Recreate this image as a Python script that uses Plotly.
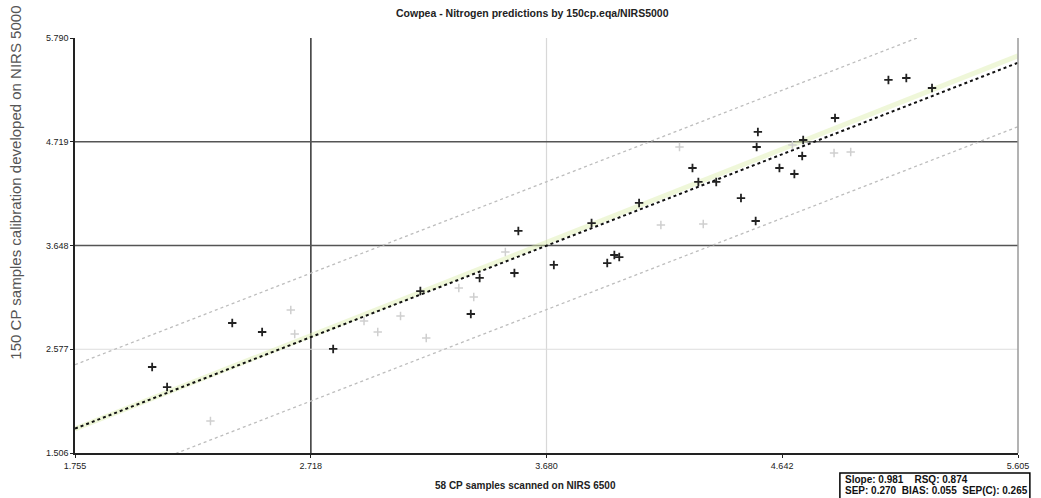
import plotly.graph_objects as go

# ---- data ----
x_range = [1.755, 5.605]
y_range = [1.506, 5.790]
x_ticks = [1.755, 2.718, 3.680, 4.642, 5.605]
x_tick_labels = ["1.755", "2.718", "3.680", "4.642", "5.605"]
y_ticks = [1.506, 2.577, 3.648, 4.719, 5.790]
y_tick_labels = ["1.506", "2.577", "3.648", "4.719", "5.790"]

dark_x = [2.070, 2.131, 2.397, 2.519, 2.809, 3.165, 3.371, 3.407, 3.549, 3.565,
          3.710, 3.864, 3.928, 3.957, 3.977, 4.058, 4.276, 4.300, 4.373, 4.474,
          4.534, 4.543, 4.538, 4.631, 4.692, 4.728, 4.724, 4.858, 5.076, 5.149, 5.254]
dark_y = [2.394, 2.187, 2.848, 2.755, 2.580, 3.178, 2.941, 3.313, 3.364, 3.798,
          3.447, 3.880, 3.467, 3.550, 3.529, 4.087, 4.448, 4.304, 4.304, 4.138,
          3.901, 4.820, 4.665, 4.448, 4.386, 4.737, 4.572, 4.964, 5.357, 5.377, 5.274]

faint_x = [2.308, 2.636, 2.652, 2.935, 2.991, 3.084, 3.189, 3.322, 3.383, 3.512,
           4.147, 4.320, 4.223, 4.684, 4.854, 4.922]
faint_y = [1.836, 2.982, 2.734, 2.869, 2.755, 2.920, 2.693, 3.209, 3.116, 3.581,
           3.860, 3.870, 4.665, 4.686, 4.603, 4.613]

slope = 0.981
intercept = 0.036
limit = 0.66

dark_grid_x = [2.718]
light_grid_x = [3.680]
dark_grid_y = [3.648, 4.719]
light_grid_y = [2.577]

title = "Cowpea - Nitrogen predictions by 150cp.eqa/NIRS5000"
x_title = "58 CP samples scanned on NIRS 6500"
y_title = "150 CP samples calibration developed on NIRS 5000"
stats_line1 = "Slope: 0.981    RSQ: 0.874"
stats_line2 = "SEP: 0.270  BIAS: 0.055  SEP(C): 0.265"

# ---- figure ----
fig = go.Figure()
lx = [x_range[0], x_range[1]]
reg_y = [slope * v + intercept for v in lx]

fig.add_trace(go.Scatter(x=lx, y=lx, mode="lines",
                         line=dict(color="rgba(220,238,170,0.45)", width=5),
                         hoverinfo="skip"))
fig.add_trace(go.Scatter(x=lx, y=[v + limit for v in reg_y], mode="lines",
                         line=dict(color="#bdbdbd", width=1.3, dash="dot"),
                         hoverinfo="skip"))
fig.add_trace(go.Scatter(x=lx, y=[v - limit for v in reg_y], mode="lines",
                         line=dict(color="#bdbdbd", width=1.3, dash="dot"),
                         hoverinfo="skip"))
fig.add_trace(go.Scatter(x=lx, y=reg_y, mode="lines",
                         line=dict(color="#111111", width=2, dash="dot"),
                         hoverinfo="skip"))
fig.add_trace(go.Scatter(x=faint_x, y=faint_y, mode="markers",
                         marker=dict(symbol="cross-thin", size=6,
                                     line=dict(color="#cfcfcf", width=1.5))))
fig.add_trace(go.Scatter(x=dark_x, y=dark_y, mode="markers",
                         marker=dict(symbol="cross-thin", size=6,
                                     line=dict(color="#222222", width=1.8))))

shapes = []
for v in dark_grid_x:
    shapes.append(dict(type="line", xref="x", yref="paper", x0=v, x1=v, y0=0, y1=1,
                       line=dict(color="#333333", width=1.5), layer="below"))
for v in light_grid_x:
    shapes.append(dict(type="line", xref="x", yref="paper", x0=v, x1=v, y0=0, y1=1,
                       line=dict(color="#d8d8d8", width=1.2), layer="below"))
for v in dark_grid_y:
    shapes.append(dict(type="line", xref="paper", yref="y", x0=0, x1=1, y0=v, y1=v,
                       line=dict(color="#555555", width=1.5), layer="below"))
for v in light_grid_y:
    shapes.append(dict(type="line", xref="paper", yref="y", x0=0, x1=1, y0=v, y1=v,
                       line=dict(color="#dddddd", width=1.2), layer="below"))
# right border
shapes.append(dict(type="line", xref="paper", yref="paper", x0=1, x1=1, y0=0, y1=1,
                   line=dict(color="#9a9a9a", width=1.5)))
# stats box (paper coords from pixel layout)
W, H = 1041, 498
ml, mr, mt, mb = 75, 13, 38, 45
pw, ph = W - ml - mr, H - mt - mb
def px(xp):
    return (xp - ml) / pw
def py(yp):
    return (H - mb - yp) / ph
shapes.append(dict(type="rect", xref="paper", yref="paper",
                   x0=px(848), x1=px(1040), y0=py(506), y1=py(473),
                   line=dict(color="#000000", width=1.5), fillcolor="white"))

font_small = dict(family="Liberation Sans, Arial", size=9, color="#222222")
annotations = [
    dict(text="<b>" + title + "</b>", xref="paper", yref="paper", x=px(537), y=py(13),
         yanchor="middle", showarrow=False,
         font=dict(family="Liberation Sans, Arial", size=10.5, color="#222")),
    dict(text="<b>" + x_title + "</b>", xref="paper", yref="paper", x=px(530), y=py(485),
         yanchor="middle", showarrow=False,
         font=dict(family="Liberation Sans, Arial", size=10, color="#222")),
    dict(text=y_title, xref="paper", yref="paper", x=px(14), y=py(362),
         yanchor="bottom", xanchor="center", textangle=-90, showarrow=False,
         font=dict(family="Liberation Sans, Arial", size=15, color="#555555")),
    dict(text="<b>" + stats_line1 + "</b>", xref="paper", yref="paper", x=px(851), y=py(479),
         xanchor="left", yanchor="middle", showarrow=False,
         font=dict(family="Liberation Sans, Arial", size=10, color="#111")),
    dict(text="<b>" + stats_line2 + "</b>", xref="paper", yref="paper", x=px(851), y=py(490),
         xanchor="left", yanchor="middle", showarrow=False,
         font=dict(family="Liberation Sans, Arial", size=10, color="#111")),
]

fig.update_layout(
    width=W, height=H,
    margin=dict(l=ml, r=mr, t=mt, b=mb),
    paper_bgcolor="white", plot_bgcolor="white",
    showlegend=False,
    shapes=shapes, annotations=annotations,
    xaxis=dict(range=x_range, tickvals=x_ticks, ticktext=x_tick_labels,
               showgrid=False, zeroline=False, showline=True, linecolor="#222",
               linewidth=1.5, ticks="outside", ticklen=3, tickcolor="#222",
               tickfont=font_small),
    yaxis=dict(range=y_range, tickvals=y_ticks, ticktext=y_tick_labels,
               showgrid=False, zeroline=False, showline=True, linecolor="#222",
               linewidth=1.5, ticks="outside", ticklen=3, tickcolor="#222",
               tickfont=font_small),
)

fig.write_html("out.html")
